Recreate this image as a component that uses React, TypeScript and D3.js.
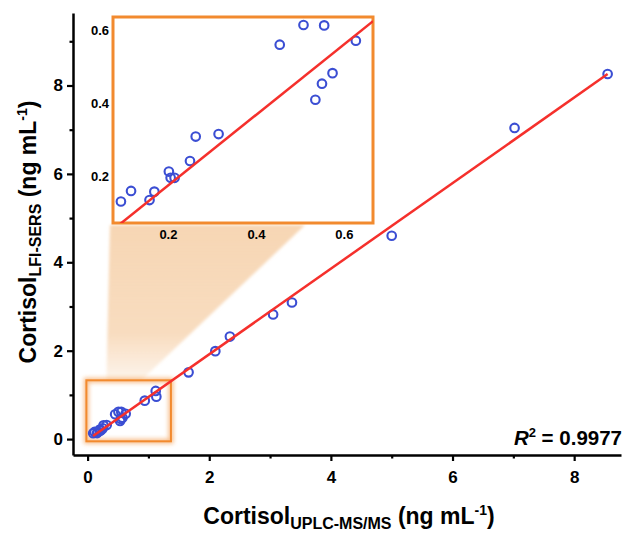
import { useEffect, useRef } from "react";
import * as d3 from "d3";

// measured values (ng/mL)
const uplcValues = [0.092, 0.115, 0.157, 0.168, 0.201, 0.205, 0.214, 0.249, 0.262, 0.314, 0.453, 0.507, 0.554, 0.626, 0.573, 0.549, 0.534, 0.94, 1.12, 1.13, 1.66, 2.1, 2.34, 3.05, 3.36, 5.0, 7.02, 8.55];
const lfiSersValues = [0.132, 0.161, 0.136, 0.159, 0.214, 0.197, 0.197, 0.243, 0.31, 0.317, 0.562, 0.616, 0.615, 0.573, 0.484, 0.455, 0.411, 0.87, 1.09, 0.96, 1.51, 1.99, 2.32, 2.82, 3.09, 4.6, 7.04, 8.26];

// linear fit
const fitSlope = 0.968;
const fitIntercept = -0.017;
const fitRange = [0.09, 8.55];
const r2Label = "0.9977";

const xMajorTicks = [0, 2, 4, 6, 8];
const xMinorTicks = [1, 3, 5, 7];
const yMajorTicks = [0, 2, 4, 6, 8];
const yMinorTicks = [1, 3, 5, 7, 9];
const insetTicks = [0.2, 0.4, 0.6];

// region of the main plot that the inset magnifies
const zoomX = [-0.02, 1.37];
const zoomY = [-0.05, 1.33];

const FONT = "'Liberation Sans', Arial, sans-serif";
const ORANGE = "#F28A2E";
const BLUE = "#3B4ED3";
const RED = "#F5302C";

const App = () => {
  const ref = useRef<SVGSVGElement | null>(null);

  useEffect(() => {
    const svg = d3.select(ref.current);
    svg.selectAll("*").remove();

    const x = d3.scaleLinear().domain([-0.24, 8.77]).range([73, 621]);
    const y = d3.scaleLinear().domain([-0.36, 9.64]).range([455, 13]);
    const ix = d3.scaleLinear().domain([0.074, 0.665]).range([113, 373]);
    const iy = d3.scaleLinear().domain([0.073, 0.638]).range([223, 17]);

    const pts = uplcValues.map((v, i) => ({ x: v, y: lfiSersValues[i] }));

    const defs = svg.append("defs");
    defs.append("filter").attr("id", "glow").attr("x", "-20%").attr("y", "-20%").attr("width", "140%").attr("height", "140%")
      .append("feGaussianBlur").attr("stdDeviation", 2);
    defs.append("filter").attr("id", "soft")
      .append("feGaussianBlur").attr("stdDeviation", 1.5);
    const grad = defs.append("linearGradient").attr("id", "shade").attr("x1", 0).attr("y1", 0).attr("x2", 0).attr("y2", 1);
    grad.append("stop").attr("offset", "0%").attr("stop-color", "#F7D6B4").attr("stop-opacity", 1);
    grad.append("stop").attr("offset", "70%").attr("stop-color", "#F7D6B4").attr("stop-opacity", 0.85);
    grad.append("stop").attr("offset", "100%").attr("stop-color", "#F7D6B4").attr("stop-opacity", 0.25);
    defs.append("clipPath").attr("id", "insetClip").append("rect")
      .attr("x", ix.range()[0]).attr("y", iy.range()[1])
      .attr("width", ix.range()[1] - ix.range()[0]).attr("height", iy.range()[0] - iy.range()[1]);

    // shaded connector between zoom box and inset
    const zx0 = x(zoomX[0]), zx1 = x(zoomX[1]), zyTop = y(zoomY[1]);
    const shadeTop = iy.range()[0] + 2;
    svg.append("path")
      .attr("d", `M${ix.range()[0] - 3},${shadeTop} L305,${shadeTop} L${zx0 + 55},${zyTop} L${zx0 + 20},${zyTop} Z`)
      .attr("fill", "url(#shade)")
      .attr("filter", "url(#soft)");

    // zoom box with glow
    svg.append("rect")
      .attr("x", zx0).attr("y", zyTop).attr("width", zx1 - zx0).attr("height", y(zoomY[0]) - zyTop)
      .attr("fill", "none").attr("stroke", ORANGE).attr("stroke-width", 5).attr("opacity", 0.55)
      .attr("filter", "url(#glow)");
    svg.append("rect")
      .attr("x", zx0).attr("y", zyTop).attr("width", zx1 - zx0).attr("height", y(zoomY[0]) - zyTop)
      .attr("fill", "none").attr("stroke", ORANGE).attr("stroke-width", 2);

    // axes
    const styleAxis = (g: any) => {
      g.select(".domain").attr("stroke-width", 2.5).attr("stroke", "#000");
      g.selectAll(".tick line").attr("stroke-width", 2.2).attr("stroke", "#000");
      g.selectAll(".tick text").attr("font-family", FONT).attr("font-weight", "bold").attr("font-size", 17).attr("fill", "#000");
    };
    svg.append("g").attr("transform", `translate(0,${y.range()[0]})`)
      .call(d3.axisBottom(x).tickValues(xMajorTicks).tickSize(6).tickPadding(10).tickSizeOuter(0).tickFormat(d3.format("d")))
      .call(styleAxis);
    svg.append("g").attr("transform", `translate(0,${y.range()[0]})`)
      .call(d3.axisBottom(x).tickValues(xMinorTicks).tickSize(3.5).tickFormat(() => ""))
      .call((g: any) => { g.select(".domain").remove(); g.selectAll(".tick line").attr("stroke-width", 2.2); });
    svg.append("g").attr("transform", `translate(${x.range()[0]},0)`)
      .call(d3.axisLeft(y).tickValues(yMajorTicks).tickSize(6).tickPadding(4).tickSizeOuter(0).tickFormat(d3.format("d")))
      .call(styleAxis);
    svg.append("g").attr("transform", `translate(${x.range()[0]},0)`)
      .call(d3.axisLeft(y).tickValues(yMinorTicks).tickSize(3.5).tickFormat(() => ""))
      .call((g: any) => { g.select(".domain").remove(); g.selectAll(".tick line").attr("stroke-width", 2.2); });

    // main points + fit
    svg.append("g").selectAll("circle").data(pts).enter().append("circle")
      .attr("cx", d => x(d.x)).attr("cy", d => y(d.y)).attr("r", 4.3)
      .attr("fill", "none").attr("stroke", BLUE).attr("stroke-width", 2.1);
    svg.append("line")
      .attr("x1", x(fitRange[0])).attr("y1", y(fitSlope * fitRange[0] + fitIntercept))
      .attr("x2", x(fitRange[1])).attr("y2", y(fitSlope * fitRange[1] + fitIntercept))
      .attr("stroke", RED).attr("stroke-width", 2.5);

    // R2 label
    const r2 = svg.append("text").attr("x", 622).attr("y", 445).attr("text-anchor", "end")
      .attr("font-family", FONT).attr("font-weight", "bold").attr("font-size", 20.5).attr("fill", "#000");
    r2.append("tspan").attr("font-style", "italic").text("R");
    r2.append("tspan").attr("font-size", 13).attr("dy", -8).text("2");
    r2.append("tspan").attr("dy", 8).text(" = " + r2Label);

    // inset
    const inset = svg.append("g");
    inset.append("rect")
      .attr("x", ix.range()[0]).attr("y", iy.range()[1])
      .attr("width", ix.range()[1] - ix.range()[0]).attr("height", iy.range()[0] - iy.range()[1])
      .attr("fill", "#fff").attr("stroke", ORANGE).attr("stroke-width", 3);
    const inPts = pts.filter(d => d.x >= ix.domain()[0] && d.x <= ix.domain()[1]);
    const body = inset.append("g").attr("clip-path", "url(#insetClip)");
    body.selectAll("circle").data(inPts).enter().append("circle")
      .attr("cx", d => ix(d.x)).attr("cy", d => iy(d.y)).attr("r", 4.3)
      .attr("fill", "none").attr("stroke", BLUE).attr("stroke-width", 2.1);
    body.append("line")
      .attr("x1", ix(fitRange[0])).attr("y1", iy(fitSlope * fitRange[0] + fitIntercept))
      .attr("x2", ix(ix.domain()[1])).attr("y2", iy(fitSlope * ix.domain()[1] + fitIntercept))
      .attr("stroke", RED).attr("stroke-width", 2.5);
    inset.selectAll(".ixl").data(insetTicks).enter().append("text")
      .attr("x", d => ix(d)).attr("y", 239).attr("text-anchor", "middle")
      .attr("font-family", FONT).attr("font-weight", "bold").attr("font-size", 13)
      .text(d => d.toFixed(1));
    inset.selectAll(".iyl").data(insetTicks).enter().append("text")
      .attr("x", 109).attr("y", d => iy(d)).attr("dy", "0.35em").attr("text-anchor", "end")
      .attr("font-family", FONT).attr("font-weight", "bold").attr("font-size", 13)
      .text(d => d.toFixed(1));

    // axis titles
    const title = (t: any, sub: string) => {
      t.attr("font-family", FONT).attr("font-weight", "bold").attr("font-size", 23).attr("fill", "#000");
      t.append("tspan").text("Cortisol");
      t.append("tspan").attr("font-size", 16).attr("dy", 5).text(sub);
      t.append("tspan").attr("dy", -5).text(" (ng mL");
      t.append("tspan").attr("font-size", 14).attr("dy", -9).text("-1");
      t.append("tspan").attr("dy", 9).text(")");
    };
    svg.append("text").attr("x", 349).attr("y", 524).attr("text-anchor", "middle")
      .call(title, "UPLC-MS/MS");
    svg.append("text").attr("transform", "translate(36,232) rotate(-90)").attr("text-anchor", "middle")
      .call(title, "LFI-SERS");
  }, []);

  return (
    <svg ref={ref} width={625} height={533} style={{ position: "absolute", left: 0, top: 0, background: "#fff" }} />
  );
};

export default App;
